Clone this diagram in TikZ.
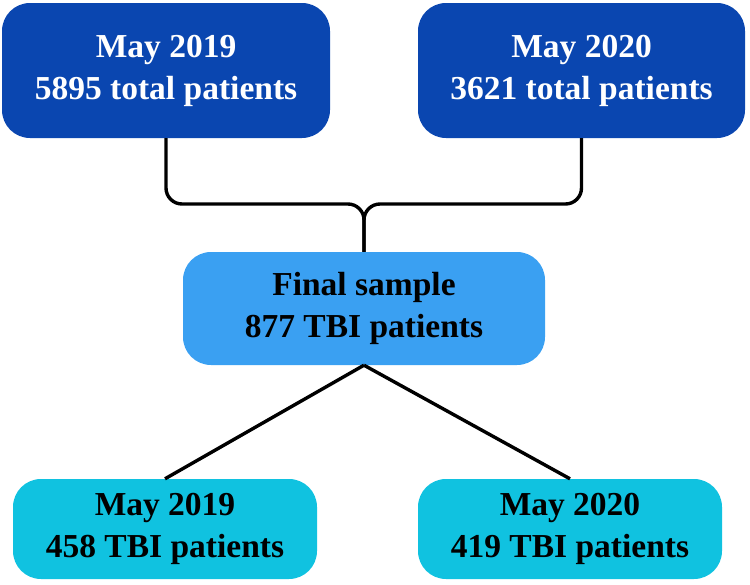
\documentclass[tikz,border=0pt]{standalone}
\usepackage{fontspec}
\setmainfont{Liberation Serif}
\usetikzlibrary{calc}
\definecolor{topblue}{RGB}{10,70,176}
\definecolor{midblue}{RGB}{58,160,242}
\definecolor{botcyan}{RGB}{16,194,224}
\tikzset{
  box/.style={rounded corners=28pt, align=center, inner sep=0pt,
    font=\fontsize{33.5}{42}\selectfont\bfseries},
  topbox/.style={box, fill=topblue, text=white},
  midbox/.style={box, fill=midblue, text=black},
  botbox/.style={box, fill=botcyan, text=black},
  conn/.style={draw=black, line width=3.4pt, rounded corners=16pt}
}
\begin{document}
\begin{tikzpicture}[x=1pt,y=-1pt]
\useasboundingbox (0,0) rectangle (750,584);
\node[topbox, minimum width=328pt, minimum height=135pt] (top1) at (166,70.5) {May 2019\\5895 total patients};
\node[topbox, minimum width=327pt, minimum height=135pt] (top2) at (581.5,70.5) {May 2020\\3621 total patients};
\node[midbox, minimum width=362pt, minimum height=113pt] (mid) at (364,308.5) {Final sample\\877 TBI patients};
\node[botbox, minimum width=304pt, minimum height=100pt] (bot1) at (165,529) {May 2019\\458 TBI patients};
\node[botbox, minimum width=304pt, minimum height=100pt] (bot2) at (570,529) {May 2020\\419 TBI patients};
\coordinate (j) at (364,204);
\draw[conn] (top1.south) |- (j) -- (mid.north);
\draw[conn] (top2.south) |- (j) -- (mid.north);
\draw[conn, rounded corners=0pt] (mid.south) -- (bot1.north);
\draw[conn, rounded corners=0pt] (mid.south) -- (bot2.north);
\end{tikzpicture}
\end{document}
